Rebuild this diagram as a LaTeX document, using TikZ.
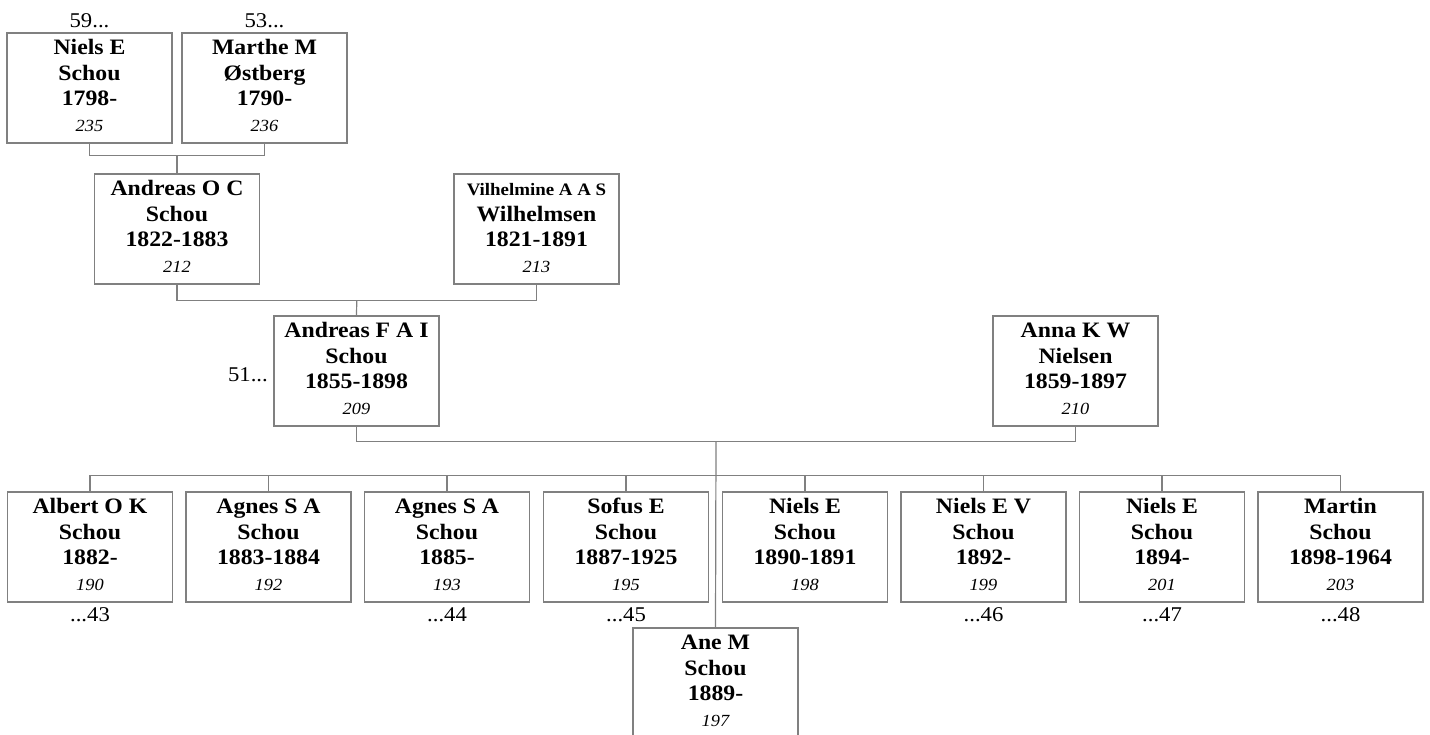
\documentclass[tikz,border=0pt]{standalone}
\usepackage{fontspec}
\setmainfont{Liberation Serif}[FakeStretch=1.08]
\usetikzlibrary{calc}
\definecolor{lc}{RGB}{128,128,128}
\newcommand{\pers}[4]{{\fontsize{22}{25.6}\selectfont\bfseries\begin{tabular}{@{}c@{}}#1\\#2\\#3\\{\fontsize{17}{25.6}\selectfont\mdseries\itshape #4}\end{tabular}}}
\tikzset{
  pbox/.style={draw=lc, line width=1.2pt, minimum width=165pt, minimum height=110pt, inner sep=0pt, fill=white},
  conn/.style={draw=lc, line width=1.2pt},
  ref/.style={inner sep=0pt, font=\fontsize{21}{25}\selectfont}
}
\begin{document}
\begin{tikzpicture}[x=1pt,y=-1pt]
\useasboundingbox (0,0) rectangle (1430,734);
% generation 1
\node[pbox] (p235) at (89.5,88) {\pers{Niels E}{Schou}{1798-}{235}};
\node[pbox] (p236) at (264.5,88) {\pers{Marthe M}{Østberg}{1790-}{236}};
% generation 2
\node[pbox] (p212) at (177,229) {\pers{Andreas O C}{Schou}{1822-1883}{212}};
\node[pbox] (p213) at (536.5,229) {\pers{{\fontsize{17.5}{25.6}\selectfont Vilhelmine A A S}}{Wilhelmsen}{1821-1891}{213}};
% generation 3
\node[pbox] (p209) at (356.5,371) {\pers{Andreas F A I}{Schou}{1855-1898}{209}};
\node[pbox] (p210) at (1075.5,371) {\pers{Anna K W}{Nielsen}{1859-1897}{210}};
% children
\node[pbox] (c190) at (90,547) {\pers{Albert O K}{Schou}{1882-}{190}};
\node[pbox] (c192) at (268.5,547) {\pers{Agnes S A}{Schou}{1883-1884}{192}};
\node[pbox] (c193) at (447,547) {\pers{Agnes S A}{Schou}{1885-}{193}};
\node[pbox] (c195) at (626,547) {\pers{Sofus E}{Schou}{1887-1925}{195}};
\node[pbox] (c198) at (805,547) {\pers{Niels E}{Schou}{1890-1891}{198}};
\node[pbox] (c199) at (983.5,547) {\pers{Niels E V}{Schou}{1892-}{199}};
\node[pbox] (c201) at (1162,547) {\pers{Niels E}{Schou}{1894-}{201}};
\node[pbox] (c203) at (1340.5,547) {\pers{Martin}{Schou}{1898-1964}{203}};
\node[pbox] (c197) at (715.5,683) {\pers{Ane M}{Schou}{1889-}{197}};
% references
\node[ref, anchor=base] (r59) at (89.5,27) {59...};
\node[ref, anchor=base] (r53) at (264.5,27) {53...};
\node[ref, anchor=base east] (r51) at (268,381) {51...};
\node[ref, anchor=base] (r43) at (90,621) {...43};
\node[ref, anchor=base] (r44) at (447,621) {...44};
\node[ref, anchor=base] (r45) at (626,621) {...45};
\node[ref, anchor=base] (r46) at (983.5,621) {...46};
\node[ref, anchor=base] (r47) at (1162,621) {...47};
\node[ref, anchor=base] (r48) at (1340.5,621) {...48};
% connectors
\draw[conn] (p235.south) -- ++(0,12) -| (p236.south);
\coordinate (m1) at ($(p235.south)!0.5!(p236.south)+(0,12)$);
\draw[conn] (m1) -- (p212.north);
\draw[conn] (p212.south) -- ++(0,16) -| (p213.south);
\coordinate (m2) at ($(p212.south)!0.5!(p213.south)+(0,16)$);
\draw[conn] (m2) -- (p209.north);
\draw[conn] (p209.south) -- ++(0,15) -| (p210.south);
\coordinate (m3) at ($(p209.south)!0.5!(p210.south)+(0,15)$);
\draw[conn] (c190.north) -- ++(0,-16) -| (c203.north);
\foreach \c in {c192,c193,c195,c198,c199,c201}{
  \draw[conn] (\c.north) -- ++(0,-16);
}
\draw[conn] (m3) -- (c197.north);
\end{tikzpicture}
\end{document}
